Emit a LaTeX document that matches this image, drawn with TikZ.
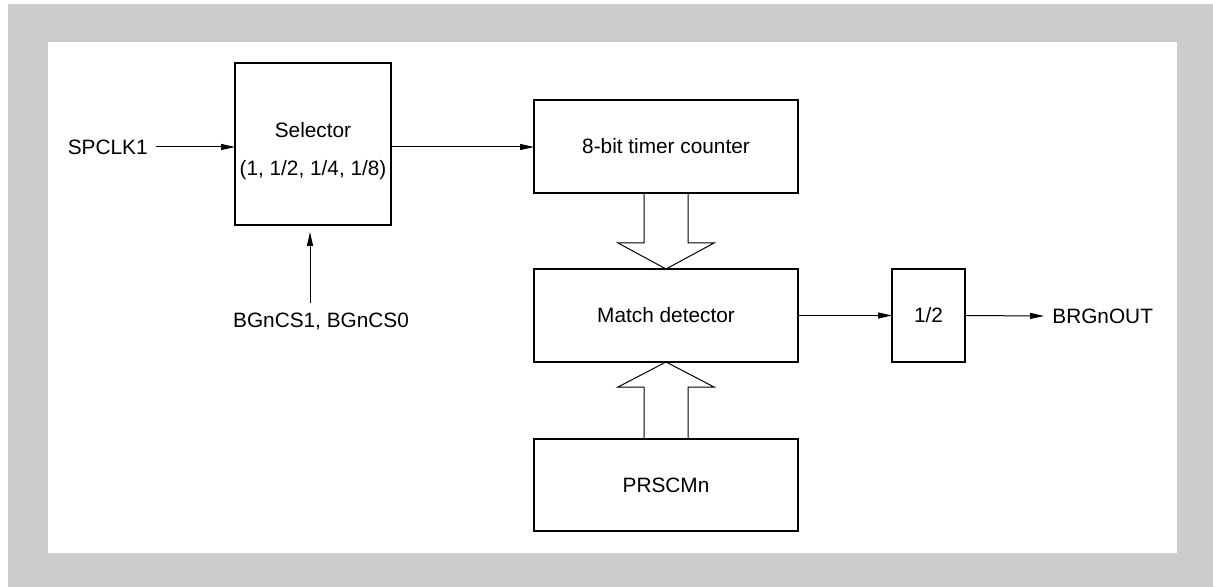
\documentclass[tikz,border=0pt]{standalone}
\usepackage{fontspec}
\setmainfont{Liberation Sans}
\usetikzlibrary{arrows.meta}
\tikzset{
  blk/.style={draw, line width=0.8pt, outer sep=0pt, inner sep=0pt},
  txt/.style={inner sep=4pt},
  sig/.style={line width=0.5pt, -{Triangle[length=7pt,width=3pt]}},
  bus/.style={line width=0.5pt}
}
\begin{document}
\begin{tikzpicture}[x=0.5pt,y=-0.5pt,font=\fontsize{10.4}{12}\selectfont]
  \useasboundingbox (0,0) rectangle (1213,587);
  % frame
  \fill[black!20] (8,4) rectangle (1213,587);
  \fill[white] (48,42) rectangle (1177,553);
  % blocks
  \node[blk, minimum width=78pt, minimum height=81pt] (sel) at (313,144) {};
  \node[align=center, inner sep=0pt] (seltxt) at (313,151) {Selector\\[7pt](1, 1/2, 1/4, 1/8)};
  \node[blk, minimum width=132pt, minimum height=46.5pt] (timer) at (666,146.5) {8-bit timer counter};
  \node[blk, minimum width=132pt, minimum height=46.5pt] (match) at (666,315.5) {Match detector};
  \node[blk, minimum width=36.5pt, minimum height=46.5pt] (half) at (928.5,315.5) {1/2};
  \node[blk, minimum width=132pt, minimum height=46pt] (prscm) at (666,485) {PRSCMn};
  % signals
  \node[txt, anchor=east] (spclk) at (156,147) {SPCLK1};
  \node[txt] (bgncs) at (321,322) {BGnCS1, BGnCS0};
  \node[txt, anchor=west] (brg) at (1044,316) {BRGnOUT};
  \coordinate (bgin) at (310,303);
  \draw[sig] (spclk.east) -- (sel.west |- spclk.east);
  \draw[sig] (sel.east |- spclk.east) -- (timer.west |- spclk.east);
  \draw[sig, shorten >=3.5pt] (bgin) -- (bgin |- sel.south);
  \draw[sig] (match.east) -- (half.west);
  \draw[sig] (half.east) -- (brg.west);
  % wide arrows
  \draw[bus] (timer.south) ++(-22,0) -- ++(0,50) -- ++(-26,0) -- (match.north)
    -- ++(48,-26) -- ++(-26,0) -- ++(0,-50);
  \draw[bus] (prscm.north) ++(-22,0) -- ++(0,-52) -- ++(-26,0) -- (match.south)
    -- ++(48,25) -- ++(-26,0) -- ++(0,52);
\end{tikzpicture}
\end{document}
